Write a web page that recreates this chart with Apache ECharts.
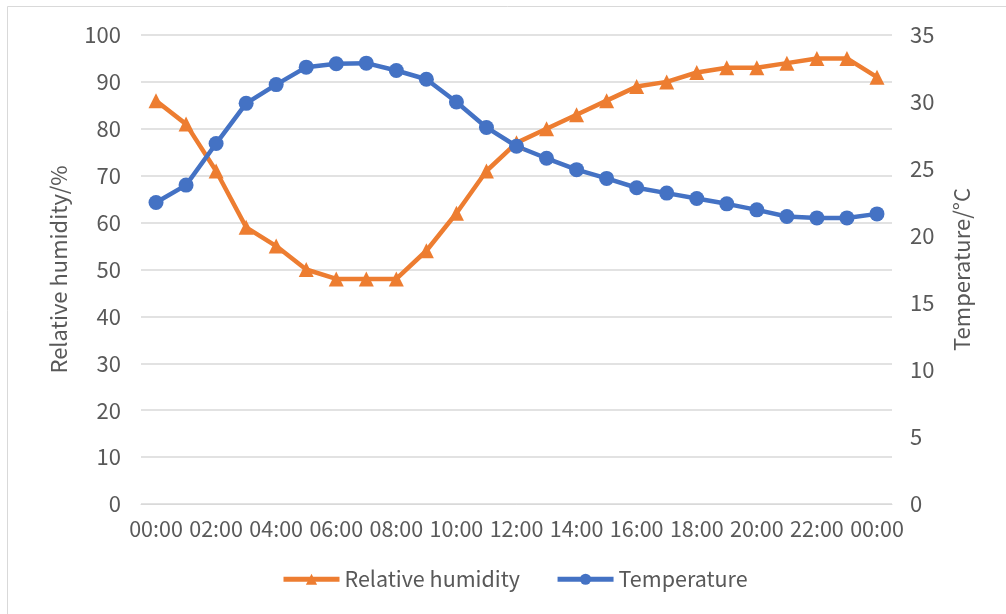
<!DOCTYPE html>
<html><head><meta charset="utf-8">
<script src="https://cdn.jsdelivr.net/npm/echarts@6/dist/echarts.min.js"></script>
<style>html,body{margin:0;padding:0;background:#fff}#c{width:1006px;height:614px}</style>
</head><body><div id="c"></div>
<script>
const categories = ["00:00","01:00","02:00","03:00","04:00","05:00","06:00","07:00","08:00","09:00","10:00","11:00","12:00","13:00","14:00","15:00","16:00","17:00","18:00","19:00","20:00","21:00","22:00","23:00","00:00"];
const humidity = [86,81,71,59,55,50,48,48,48,54,62,71,77,80,83,86,89,90,92,93,93,94,95,95,91];
const temperature = [22.5,23.8,26.9,29.9,31.3,32.6,32.85,32.9,32.35,31.7,30.0,28.1,26.7,25.8,24.95,24.3,23.6,23.2,22.8,22.4,21.95,21.45,21.35,21.35,21.65];
const seriesNames = ["Relative humidity","Temperature"];
const leftAxisName = "Relative humidity/%";
const rightAxisName = "Temperature/°C";

const FONT = '"Noto Sans CJK SC", "Noto Sans", sans-serif';
const TXT = '#595959';
const chart = echarts.init(document.getElementById('c'), null, {renderer:'canvas'});
chart.setOption({
  animation:false,
  backgroundColor:'#fff',
  textStyle:{fontFamily:FONT},
  graphic:[{type:'rect',shape:{x:7.5,y:6.5,width:1020,height:640},style:{fill:'none',stroke:'#d9d9d9',lineWidth:1}}],
  grid:{left:141,right:114,top:35,bottom:110,containLabel:false},
  legend:{
    bottom:19,left:276,itemWidth:56,itemHeight:14,itemGap:35,
    lineStyle:{width:5},
    textStyle:{color:TXT,fontSize:21.5,fontFamily:FONT},
    data:seriesNames
  },
  xAxis:{
    type:'category',data:categories,boundaryGap:true,
    axisLine:{show:true,lineStyle:{color:'#d9d9d9',width:1}},
    axisTick:{show:false},
    axisLabel:{interval:1,color:TXT,fontSize:21.5,fontFamily:FONT,margin:14},
    splitLine:{show:false}
  },
  yAxis:[{
    type:'value',min:0,max:100,interval:10,position:'left',
    name:leftAxisName,nameLocation:'middle',nameGap:71,
    nameTextStyle:{color:TXT,fontSize:22,fontFamily:FONT},
    axisLine:{show:false},axisTick:{show:false},
    axisLabel:{color:TXT,fontSize:22,fontFamily:FONT,margin:20},
    splitLine:{lineStyle:{color:'#d9d9d9',width:1.5}}
  },{
    type:'value',min:0,max:35,interval:5,position:'right',
    name:rightAxisName,nameLocation:'middle',nameGap:59,
    nameTextStyle:{color:TXT,fontSize:22,fontFamily:FONT},
    axisLine:{show:false},axisTick:{show:false},
    axisLabel:{color:TXT,fontSize:22,fontFamily:FONT,margin:18},
    splitLine:{show:false}
  }],
  series:[{
    name:seriesNames[0],type:'line',yAxisIndex:0,data:humidity,
    symbol:'triangle',symbolSize:15,showAllSymbol:true,
    lineStyle:{color:'#ED7D31',width:4.5},itemStyle:{color:'#ED7D31'}
  },{
    name:seriesNames[1],type:'line',yAxisIndex:1,data:temperature,
    symbol:'circle',symbolSize:15,showAllSymbol:true,
    lineStyle:{color:'#4472C4',width:4.5},itemStyle:{color:'#4472C4'}
  }]
});
</script></body></html>
